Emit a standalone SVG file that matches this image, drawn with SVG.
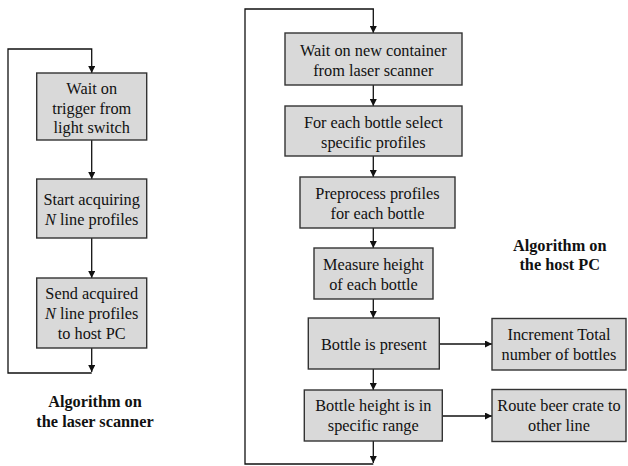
<svg xmlns="http://www.w3.org/2000/svg" width="628" height="466" viewBox="0 0 628 466">
<style>
.box{fill:#d9d9d9;stroke:#333;stroke-width:1.4}
.nodetext{font-family:'Liberation Serif',serif;font-size:16.3px;fill:#111;text-anchor:middle}
.title{font-family:'Liberation Serif',serif;font-size:16.3px;font-weight:bold;fill:#111;text-anchor:middle}
.ln{fill:none;stroke:#111;stroke-width:1.3}
</style>
<defs>
<marker id="ah" viewBox="0 0 10 10" refX="10" refY="5" markerWidth="7" markerHeight="7" markerUnits="userSpaceOnUse" orient="auto">
<path d="M0,0 L10,5 L0,10 z" fill="#111"/>
</marker>
</defs>
<g id="connectors">
<path class="ln" d="M91.7,373 H8 V49 H91.7 V73" marker-end="url(#ah)"/>
<path class="ln" d="M91.7,140 V179" marker-end="url(#ah)"/>
<path class="ln" d="M91.7,238 V278" marker-end="url(#ah)"/>
<path class="ln" d="M91.7,348 V372" marker-end="url(#ah)"/>
<path class="ln" d="M373.3,464 H245 V9 H373.3 V33" marker-end="url(#ah)"/>
<path class="ln" d="M373.3,85 V106" marker-end="url(#ah)"/>
<path class="ln" d="M373.3,156 V177" marker-end="url(#ah)"/>
<path class="ln" d="M373.3,228 V248" marker-end="url(#ah)"/>
<path class="ln" d="M373.3,299 V318" marker-end="url(#ah)"/>
<path class="ln" d="M373.3,369 V390" marker-end="url(#ah)"/>
<path class="ln" d="M373.3,441 V463" marker-end="url(#ah)"/>
<path class="ln" d="M439,344 H492" marker-end="url(#ah)"/>
<path class="ln" d="M442,416 H492" marker-end="url(#ah)"/>
</g>
<g id="n1"><rect class="box" x="36.7" y="73" width="110" height="67"/>
<text class="nodetext" font-family="Liberation Serif" x="91.7" y="94">Wait on</text><text class="nodetext" font-family="Liberation Serif" x="91.7" y="113.5">trigger from</text><text class="nodetext" font-family="Liberation Serif" x="91.7" y="133">light switch</text></g>
<g id="n2"><rect class="box" x="36.7" y="179" width="110" height="59"/>
<text class="nodetext" font-family="Liberation Serif" x="91.7" y="204.5">Start acquiring</text><text class="nodetext" font-family="Liberation Serif" x="91.7" y="224.5"><tspan font-style="italic">N</tspan> line profiles</text></g>
<g id="n3"><rect class="box" x="36.7" y="278" width="110" height="70"/>
<text class="nodetext" font-family="Liberation Serif" x="91.7" y="298.5">Send acquired</text><text class="nodetext" font-family="Liberation Serif" x="91.7" y="318.5"><tspan font-style="italic">N</tspan> line profiles</text><text class="nodetext" font-family="Liberation Serif" x="91.7" y="338.5">to host PC</text></g>
<g id="label1"><text class="title" font-family="Liberation Serif" x="95" y="407">Algorithm on</text><text class="title" font-family="Liberation Serif" x="95" y="426.5">the laser scanner</text></g>
<g id="h1"><rect class="box" x="285" y="33" width="177" height="52"/>
<text class="nodetext" font-family="Liberation Serif" x="373.3" y="55.5">Wait on new container</text><text class="nodetext" font-family="Liberation Serif" x="373.3" y="75.5">from laser scanner</text></g>
<g id="h2"><rect class="box" x="285" y="106" width="177" height="50"/>
<text class="nodetext" font-family="Liberation Serif" x="373.3" y="127.5">For each bottle select</text><text class="nodetext" font-family="Liberation Serif" x="373.3" y="147.5">specific profiles</text></g>
<g id="h3"><rect class="box" x="300" y="177" width="155" height="51"/>
<text class="nodetext" font-family="Liberation Serif" x="377.5" y="198.5">Preprocess profiles</text><text class="nodetext" font-family="Liberation Serif" x="377.5" y="218.5">for each bottle</text></g>
<g id="h4"><rect class="box" x="314" y="248" width="119" height="51"/>
<text class="nodetext" font-family="Liberation Serif" x="373.5" y="269.5">Measure height</text><text class="nodetext" font-family="Liberation Serif" x="373.5" y="289.5">of each bottle</text></g>
<g id="h5"><rect class="box" x="308.3" y="318" width="131" height="51"/>
<text class="nodetext" font-family="Liberation Serif" x="373.8" y="349.5">Bottle is present</text></g>
<g id="h6"><rect class="box" x="304.3" y="390" width="138" height="51"/>
<text class="nodetext" font-family="Liberation Serif" x="373.3" y="411">Bottle height is in</text><text class="nodetext" font-family="Liberation Serif" x="373.3" y="431">specific range</text></g>
<g id="h7"><rect class="box" x="492" y="318.5" width="134" height="51.5"/>
<text class="nodetext" font-family="Liberation Serif" x="559" y="339.5">Increment Total</text><text class="nodetext" font-family="Liberation Serif" x="559" y="359.5">number of bottles</text></g>
<g id="h8"><rect class="box" x="492" y="389.5" width="134" height="52"/>
<text class="nodetext" font-family="Liberation Serif" x="559" y="411">Route beer crate to</text><text class="nodetext" font-family="Liberation Serif" x="559" y="431">other line</text></g>
<g id="label2"><text class="title" font-family="Liberation Serif" x="559.7" y="250.5">Algorithm on</text><text class="title" font-family="Liberation Serif" x="559.7" y="270">the host PC</text></g>
</svg>
